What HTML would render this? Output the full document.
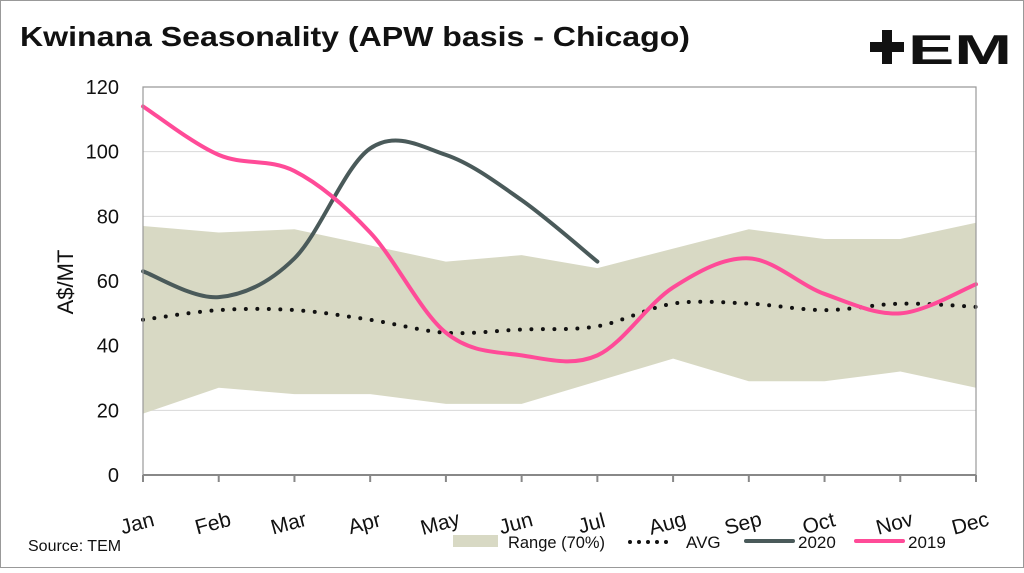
<!DOCTYPE html>
<html><head><meta charset="utf-8">
<style>
body{margin:0;background:#fff;width:1024px;height:568px;overflow:hidden;font-family:"Liberation Sans",sans-serif;}
</style></head>
<body>
<svg width="1024" height="568" xmlns="http://www.w3.org/2000/svg">
<rect x="0.5" y="0.5" width="1023" height="567" fill="#fff" stroke="#999"/>
<text x="20" y="46" font-size="28" font-weight="bold" fill="#111" textLength="670" lengthAdjust="spacingAndGlyphs">Kwinana Seasonality (APW basis - Chicago)</text>
<g>
<rect x="870" y="42" width="34" height="10" fill="#111"/><rect x="882" y="30" width="10" height="34" fill="#111"/>
<text x="908" y="64" font-size="42" font-weight="bold" fill="#111" textLength="104" lengthAdjust="spacingAndGlyphs">EM</text>
</g>
<g id="grid"></g>
<g id="plot"></g>
<g id="axes"></g>
<text transform="translate(73,282) rotate(-90)" text-anchor="middle" font-size="22" fill="#111">A$/MT</text>
<text x="28" y="551" font-size="16" fill="#111">Source: TEM</text>
<g>
<g><rect x="453" y="535" width="45" height="12" fill="#d8d9c4"/><text x="508" y="548" font-size="17" fill="#111" textLength="97" lengthAdjust="spacingAndGlyphs">Range (70%)</text></g>
<g><line x1="630" y1="542" x2="675" y2="542" stroke="#111" stroke-width="4" stroke-linecap="round" stroke-dasharray="0 9"/><text x="686" y="548" font-size="17" fill="#111">AVG</text></g>
<g><line x1="746" y1="541" x2="793" y2="541" stroke="#4a5a5a" stroke-width="4" stroke-linecap="round"/><text x="798" y="548" font-size="17" fill="#111">2020</text></g>
<g><line x1="856" y1="541" x2="903" y2="541" stroke="#ff4b98" stroke-width="4" stroke-linecap="round"/><text x="908" y="548" font-size="17" fill="#111">2019</text></g>
</g>
</svg>
<script>
const months=["Jan","Feb","Mar","Apr","May","Jun","Jul","Aug","Sep","Oct","Nov","Dec"];
const rangeHigh=[77,75,76,71,66,68,64,70,76,73,73,78];
const rangeLow=[19,27,25,25,22,22,29,36,29,29,32,27];
const avgValues=[48,51,51,48,44,45,46,53,53,51,53,52];
const values2020=[63,55,67,101,99,85,66];
const values2019=[114,99,94,75,44,37,37,58,67,56,50,59];
const yTicks=[0,20,40,60,80,100,120];
const NS="http://www.w3.org/2000/svg";
const X0=143,X1=976,Y0=475,Y1=87;
const xs=i=>X0+i*(X1-X0)/11;
const ys=v=>Y0-v*(Y0-Y1)/120;
function mk(t,a,p){const e=document.createElementNS(NS,t);for(const k in a)e.setAttribute(k,a[k]);p.appendChild(e);return e;}
function smooth(vals){const p=vals.map((v,i)=>[xs(i),ys(v)]);let d="M"+p[0][0]+","+p[0][1];
for(let i=0;i<p.length-1;i++){const a=p[i-1]||p[i],b=p[i],c=p[i+1],e=p[i+2]||c;
d+=` C${b[0]+(c[0]-a[0])/6},${b[1]+(c[1]-a[1])/6} ${c[0]-(e[0]-b[0])/6},${c[1]-(e[1]-b[1])/6} ${c[0]},${c[1]}`;}return d;}
const grid=document.getElementById('grid'),plot=document.getElementById('plot'),axes=document.getElementById('axes');
yTicks.forEach(t=>{
const l=mk('line',{x1:X0,x2:X1,y1:ys(t),y2:ys(t),stroke:'#d8d8d8','stroke-width':1},grid);


const tx=mk('text',{x:X0-24,y:ys(t)+7,'text-anchor':'end','font-size':20,fill:'#111'},axes);tx.textContent=t;


});
let d="M"+rangeHigh.map((v,i)=>xs(i)+","+ys(v)).join(" L");
d+=" L"+rangeLow.map((v,i)=>xs(i)+","+ys(v)).reverse().join(" L")+" Z";
const area=mk('path',{d:d,fill:'#d8d9c4'},plot);


const avg=mk('path',{d:smooth(avgValues),fill:'none',stroke:'#111','stroke-width':4,'stroke-linecap':'round','stroke-dasharray':'0 11.5'},plot);


const l20=mk('path',{d:smooth(values2020),fill:'none',stroke:'#4a5a5a','stroke-width':4,'stroke-linecap':'round'},plot);


const l19=mk('path',{d:smooth(values2019),fill:'none',stroke:'#ff4b98','stroke-width':4,'stroke-linecap':'round'},plot);


const bx=mk('path',{d:`M${X0},${Y0} V${Y1} H${X1} V${Y0}`,fill:'none',stroke:'#999','stroke-width':1.2},axes);


const xa=mk('line',{x1:X0,x2:X1,y1:Y0,y2:Y0,stroke:'#888','stroke-width':2},axes);


months.forEach((m,i)=>{
const tk=mk('line',{x1:xs(i),x2:xs(i),y1:Y0,y2:Y0+7,stroke:'#888','stroke-width':2},axes);


const tx=mk('text',{transform:`translate(${xs(i)-4},${Y0+55}) rotate(-15)`,'text-anchor':'middle','font-size':21,fill:'#111'},axes);tx.textContent=m;


});
</script>
</body></html>
